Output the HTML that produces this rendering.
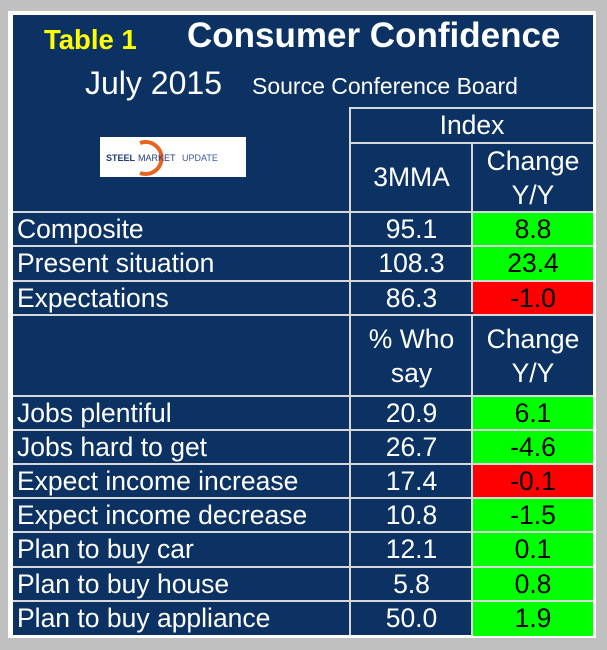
<!DOCTYPE html>
<html><head><meta charset="utf-8"><style>
body{margin:0;width:607px;height:650px;background:#c0c0c0;font-family:"Liberation Sans",Arial,sans-serif;position:relative;overflow:hidden}
.a{position:absolute}
#frame{left:8px;top:11px;width:588px;height:627px;background:#fff}
#panel{left:13px;top:15px;width:580px;height:620px;background:#0b3263}
.t{position:absolute;color:#fff;white-space:nowrap}
.c{position:absolute;display:flex;align-items:center;justify-content:center;text-align:center;font-size:26.5px;color:#fff;box-sizing:border-box;white-space:nowrap}
.l{justify-content:flex-start;padding-left:4px}
.hl{position:absolute;background:#d8d8d8;height:2px}
.vl{position:absolute;background:#d8d8d8;width:2px}
</style></head><body>
<div class="a" id="frame"></div>
<div class="a" id="panel"></div>
<div class="t" style="left:44px;top:24px;font-size:27.5px;font-weight:bold;color:#ffff00">Table 1</div>
<div class="t" style="left:187px;top:16px;font-size:35px;font-weight:bold">Consumer Confidence</div>
<div class="t" style="left:85px;top:65px;font-size:32px">July 2015</div>
<div class="t" style="left:252px;top:73px;font-size:23px">Source Conference Board</div>
<div class="a" style="left:100px;top:137px;width:146px;height:40px;background:#fff">
<svg width="146" height="40"><path d="M40 6 A16 16 0 1 1 40 36" fill="none" stroke="#e8641e" stroke-width="4"/>
<text x="6" y="24" font-family="Liberation Sans" font-size="9" font-weight="bold" fill="#1f3c78">STEEL</text>
<text x="38" y="24" font-family="Liberation Sans" font-size="9" fill="#1f3c78">MARKET</text>
<text x="82" y="24" font-family="Liberation Sans" font-size="9" fill="#3a5aa0">UPDATE</text></svg></div>
<div id="grid"></div>
<script>
const labels=["Composite","Present situation","Expectations","Jobs plentiful","Jobs hard to get","Expect income increase","Expect income decrease","Plan to buy car","Plan to buy house","Plan to buy appliance"];
const mma=["95.1","108.3","86.3","20.9","26.7","17.4","10.8","12.1","5.8","50.0"];
const chg=["8.8","23.4","-1.0","6.1","-4.6","-0.1","-1.5","0.1","0.8","1.9"];
const neg=[false,false,true,false,false,true,false,false,false,false];
const g=document.getElementById('grid');
function mk(cls,x,y,w,h,txt,name,bg,col){const d=document.createElement('div');d.className=cls;d.style.left=x+'px';d.style.top=y+'px';d.style.width=w+'px';d.style.height=h+'px';if(bg)d.style.background=bg;if(col)d.style.color=col;if(txt!==undefined)d.innerHTML=txt;


g.appendChild(d);return d;}
const tops=[212,246,281,396,430,464,498,532,567,601];
const h=34;
labels.forEach((lab,i)=>{const y=tops[i];
mk('c l',13,y,337,h,lab,'row-label');
mk('c',351,y,121,h,mma[i],'value-3mma');
mk('c',473,y,120,h+1,chg[i],'value-change',neg[i]?'#ff0000':'#00ff00','#000');});
mk('c',351,108,242,35,'Index','header-index');
mk('c',351,143,121,69,'3MMA','header-3mma');
mk('c',473,143,120,69,'Change<br>Y/Y','header-change').style.lineHeight='34px';
mk('c',351,315,121,81,'% Who<br>say','header-who-say').style.lineHeight='34px';
mk('c',473,315,120,81,'Change<br>Y/Y','header-change-2').style.lineHeight='34px';
[212,246,281,315,396,430,464,498,532,567,601].forEach(y=>mk('hl',13,y-1,580,2,undefined,'grid-line'));
mk('hl',350,107,243,2,undefined,'grid-line');
mk('hl',350,142,243,2,undefined,'grid-line');
mk('vl',349,107,2,528,undefined,'grid-line');
mk('vl',471,142,2,170,undefined,'grid-line');
mk('vl',471,315,2,320,undefined,'grid-line');
</script>
</body></html>
